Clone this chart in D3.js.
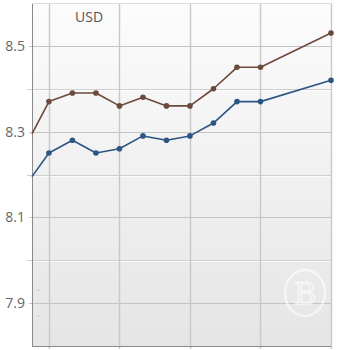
<!DOCTYPE html>
<html>
<head>
<meta charset="utf-8">
<script src="https://cdn.jsdelivr.net/npm/d3@7/dist/d3.min.js"></script>
<style>
  html, body { margin: 0; padding: 0; background: #fff; }
  svg { display: block; font-family: "Open Sans", "DejaVu Sans", sans-serif; }
</style>
</head>
<body>
<div id="chart"></div>
<script>
// x positions are sample steps; gridlines fall on every third step
var steps = [-0.72, 0, 1, 2, 3, 4, 5, 6, 7, 8, 9, 12];
var sell = [8.295, 8.37, 8.39, 8.39, 8.36, 8.38, 8.36, 8.36, 8.40, 8.45, 8.45, 8.53];
var buy  = [8.195, 8.25, 8.28, 8.25, 8.26, 8.29, 8.28, 8.29, 8.32, 8.37, 8.37, 8.42];
var yTicks = [7.9, 8.0, 8.1, 8.2, 8.3, 8.4, 8.5];
var yLabels = [7.9, 8.1, 8.3, 8.5];
var xGrid = [0, 3, 6, 9, 12];
var title = 'USD';

var W = 350, H = 350;
var m = { left: 32, right: 19, top: 3, bottom: 4 };

var svg = d3.select('#chart').append('svg').attr('width', W).attr('height', H);

svg.append('defs').html(
  '<linearGradient id="bg" x1="0" y1="0" x2="0" y2="1">' +
    '<stop offset="0" stop-color="#fcfcfc"/><stop offset="1" stop-color="#e5e5e5"/>' +
  '</linearGradient>'
);

var x = d3.scaleLinear().domain([-0.72, 12]).range([m.left, W - m.right]);
var y = d3.scaleLinear().domain([7.8, 8.6]).range([H - m.bottom, m.top]);

// plot background
svg.append('rect')
  .attr('x', x.range()[0]).attr('y', m.top)
  .attr('width', x.range()[1] - x.range()[0]).attr('height', H - m.bottom - m.top)
  .attr('fill', 'url(#bg)');

// horizontal grid
var hg = svg.append('g');
yTicks.forEach(function (v) {
  var labelled = yLabels.indexOf(v) >= 0;
  hg.append('line')
    .attr('x1', labelled ? m.left - 3 : m.left - 5).attr('x2', W - m.right)
    .attr('y1', Math.round(y(v)) + 0.5).attr('y2', Math.round(y(v)) + 0.5)
    .attr('stroke', labelled ? '#c4c4c4' : '#cfcfcf').attr('stroke-width', 1);
  if (!labelled) {
    hg.append('line')
      .attr('x1', m.left).attr('x2', W - m.right)
      .attr('y1', Math.round(y(v)) + 1.5).attr('y2', Math.round(y(v)) + 1.5)
      .attr('stroke', '#ffffff').attr('stroke-opacity', 0.8);
  }
});

// vertical grid
svg.append('g').selectAll('line').data(xGrid).join('line')
  .attr('x1', function (d) { return Math.round(x(d)) + 0.5; })
  .attr('x2', function (d) { return Math.round(x(d)) + 0.5; })
  .attr('y1', m.top).attr('y2', H - m.bottom + 3)
  .attr('stroke', '#c8c8c8').attr('stroke-width', 1.4);

// frame
svg.append('line').attr('x1', m.left + 0.5).attr('x2', m.left + 0.5)
  .attr('y1', m.top).attr('y2', H - m.bottom).attr('stroke', '#8a8a8a');
svg.append('line').attr('x1', m.left).attr('x2', W - m.right)
  .attr('y1', H - m.bottom + 0.5).attr('y2', H - m.bottom + 0.5).attr('stroke', '#8a8a8a');
svg.append('line').attr('x1', m.left).attr('x2', W - m.right)
  .attr('y1', m.top + 0.5).attr('y2', m.top + 0.5).attr('stroke', '#dddddd');

// y labels
svg.append('g').selectAll('text').data(yLabels).join('text')
  .attr('x', m.left - 7).attr('y', function (d) { return y(d); })
  .attr('dy', '0.36em').attr('text-anchor', 'end')
  .attr('font-size', 14).attr('fill', '#666')
  .text(function (d) { return d3.format('.1f')(d); });

// small marks near 7.9
[y(7.93), y(7.87)].forEach(function (py) {
  svg.append('circle').attr('cx', x(-0.45)).attr('cy', py).attr('r', 0.8).attr('fill', '#bbbbbb');
});

// title
svg.append('text').attr('x', 75).attr('y', 22)
  .attr('font-size', 14).attr('fill', '#555').text(title);

// watermark
var wm = svg.append('g').attr('transform', 'translate(' + 305 + ',' + 293 + ')').attr('opacity', 0.6);
wm.append('ellipse').attr('rx', 20).attr('ry', 23).attr('fill', 'none')
  .attr('stroke', '#ffffff').attr('stroke-width', 2.5);
wm.append('text').attr('text-anchor', 'middle').attr('dy', '0.36em')
  .attr('font-family', '"DejaVu Serif", serif').attr('font-size', 30)
  .attr('fill', 'none').attr('stroke', '#ffffff').attr('stroke-width', 1.6).text('B');

// series
var line = d3.line()
  .x(function (d) { return x(d[0]); })
  .y(function (d) { return y(d[1]); });

[[sell, '#6b4a3c'], [buy, '#2c5584']].forEach(function (s) {
  var pts = steps.map(function (t, i) { return [t, s[0][i]]; });
  var g = svg.append('g');
  g.append('path').datum(pts).attr('d', line)
    .attr('fill', 'none').attr('stroke', s[1]).attr('stroke-width', 1.6)
    .attr('stroke-linejoin', 'round');
  g.selectAll('circle').data(pts.slice(1)).join('circle')
    .attr('cx', function (d) { return x(d[0]); })
    .attr('cy', function (d) { return y(d[1]); })
    .attr('r', 2.8).attr('fill', s[1]);
});
</script>
</body>
</html>
